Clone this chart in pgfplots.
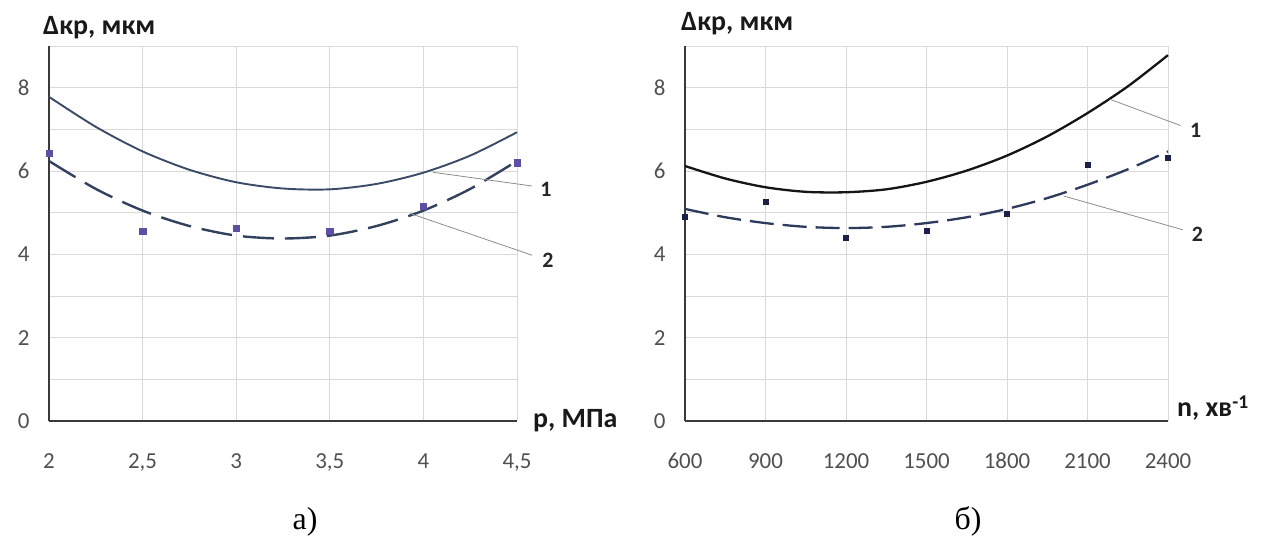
\documentclass[border=0pt]{standalone}
\usepackage{pgfplots}
\pgfplotsset{compat=1.18}
\usepackage{fontspec}
\setmainfont{Carlito}
\newfontfamily\capfont{Liberation Serif}
\definecolor{gridc}{HTML}{D9D9D9}
\definecolor{axc}{HTML}{3A3A3A}
\definecolor{tickc}{HTML}{505050}
\definecolor{lsolid}{HTML}{3B4A66}
\definecolor{ldash}{HTML}{33415E}
\definecolor{lpts}{HTML}{5E4FA2}
\definecolor{rsolid}{HTML}{151515}
\definecolor{rdash}{HTML}{2C3A5C}
\definecolor{rpts}{HTML}{1C2048}
\definecolor{callc}{HTML}{8C8C8C}

\pgfplotsset{
  panel/.style={
    scale only axis, anchor=south west, height=375bp,
    ymin=0, ymax=9, clip=false,
    axis x line=bottom, axis y line=left,
    axis line style={-, line width=2.2bp, color=axc},
    ytick={0,2,4,6,8}, yticklabels={0,2,4,6,8},
    minor ytick={1,3,5,7,9},
    grid=both,
    major grid style={gridc, line width=0.9bp},
    minor grid style={gridc, line width=0.9bp},
    major tick length=0pt, minor tick length=0pt,
    tick label style={font=\fontsize{23}{25}\selectfont, text=tickc},
    xticklabel style={yshift=-29bp, text height=15bp, text depth=0bp},
    yticklabel style={xshift=-16bp},
  }
}

\begin{document}
\begin{tikzpicture}
\path[use as bounding box] (0,0) rectangle (1267bp,537bp);

% ---------- panel a ----------
\begin{axis}[panel, at={(49bp,116bp)}, width=468bp,
  xmin=2, xmax=4.5,
  xtick={2,2.5,3,3.5,4,4.5}, xticklabels={2,{2,5},3,{3,5},4,{4,5}}]
\addplot[color=lsolid, line width=1.9bp, smooth] coordinates {
 (2,7.78) (2.25,7.06) (2.5,6.47) (2.75,6.03) (3,5.73) (3.25,5.58)
 (3.5,5.56) (3.75,5.69) (4,5.96) (4.25,6.37) (4.5,6.93)};
\addplot[color=ldash, line width=2.4bp, smooth, dash pattern=on 31bp off 11bp] coordinates {
 (2,6.24) (2.25,5.57) (2.5,5.05) (2.75,4.68) (3,4.45) (3.25,4.38)
 (3.5,4.45) (3.75,4.68) (4,5.05) (4.25,5.57) (4.5,6.24)};
\addplot[only marks, mark=square*, mark size=3.2bp, color=lpts] coordinates {
 (2,6.42) (2.5,4.56) (3,4.62) (3.5,4.56) (4,5.16) (4.5,6.2)};
\draw[callc, line width=0.8bp] (axis cs:4.05,5.97) -- (axis cs:4.58,5.64);
\draw[callc, line width=0.8bp] (axis cs:3.93,4.98) -- (axis cs:4.58,3.98);
\node[font=\fontsize{22}{24}\selectfont\bfseries, text=black!85] at (axis cs:4.655,5.56) {1};
\node[font=\fontsize{22}{24}\selectfont\bfseries, text=black!85] at (axis cs:4.665,3.86) {2};
\end{axis}

% ---------- panel b ----------
\begin{axis}[panel, at={(685bp,116bp)}, width=483bp,
  xmin=600, xmax=2400,
  xtick={600,900,1200,1500,1800,2100,2400},
  xticklabels={600,900,1200,1500,1800,2100,2400}]
\addplot[color=rsolid, line width=2.3bp, smooth] coordinates {
 (600,6.12) (750,5.82) (900,5.61) (1050,5.50) (1200,5.49) (1350,5.56)
 (1500,5.74) (1650,6.01) (1800,6.37) (1950,6.83) (2100,7.39) (2250,8.03) (2400,8.78)};
\addplot[color=rdash, line width=2.3bp, smooth, dash pattern=on 24bp off 9bp] coordinates {
 (600,5.09) (750,4.89) (900,4.75) (1050,4.66) (1200,4.63) (1350,4.66)
 (1500,4.75) (1650,4.89) (1800,5.09) (1950,5.35) (2100,5.67) (2250,6.04) (2400,6.47)};
\addplot[only marks, mark=square*, mark size=2.6bp, color=rpts] coordinates {
 (600,4.91) (900,5.26) (1200,4.40) (1500,4.56) (1800,4.97) (2100,6.16) (2400,6.32)};
\draw[callc, line width=0.8bp] (axis cs:2184,7.72) -- (axis cs:2447,7.09);
\draw[callc, line width=0.8bp] (axis cs:2011,5.40) -- (axis cs:2455,4.59);
\node[font=\fontsize{22}{24}\selectfont\bfseries, text=black!85] at (axis cs:2503,6.97) {1};
\node[font=\fontsize{22}{24}\selectfont\bfseries, text=black!85] at (axis cs:2510,4.47) {2};
\end{axis}

% ---------- titles ----------
\node[anchor=base west, inner sep=0pt, font=\fontsize{28}{30}\selectfont\bfseries, text=black!90] at (43bp,502bp) {Δкр, мкм};
\node[anchor=base west, inner sep=0pt, font=\fontsize{28}{30}\selectfont\bfseries, text=black!90] at (681bp,506bp) {Δкр, мкм};
\node[anchor=base west, inner sep=0pt, font=\fontsize{28}{30}\selectfont\bfseries, text=black!90] at (533bp,109bp) {p, МПа};
\node[anchor=base west, inner sep=0pt, font=\fontsize{28}{30}\selectfont\bfseries, text=black!90] at (1177bp,120bp) {n, хв\textsuperscript{-1}};
\node[anchor=base, inner sep=0pt, font=\fontsize{32}{34}\selectfont\capfont] at (305bp,8bp) {а)};
\node[anchor=base, inner sep=0pt, font=\fontsize{32}{34}\selectfont\capfont] at (968bp,8bp) {б)};
\end{tikzpicture}
\end{document}
